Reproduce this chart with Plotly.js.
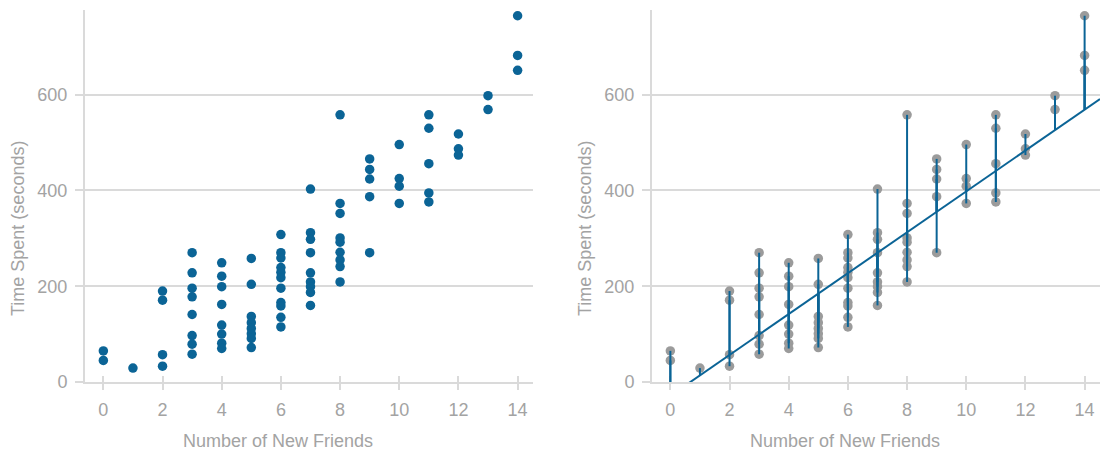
<!DOCTYPE html>
<html>
<head>
<meta charset="utf-8">
<script src="https://cdn.plot.ly/plotly-3.0.1.min.js"></script>
<style>html,body{margin:0;padding:0;background:#fff;}#chart{width:1103px;height:453px;}</style>
</head>
<body>
<div id="chart"></div>
<script>
// Data: number of new friends vs time spent (seconds)
const friends = [
  0,0,
  1,
  2,2,2,2,
  3,3,3,3,3,3,3,3,
  4,4,4,4,4,4,4,4,
  5,5,5,5,5,5,5,5,
  6,6,6,6,6,6,6,6,6,6,6,
  7,7,7,7,7,7,7,7,7,
  8,8,8,8,8,8,8,8,8,
  9,9,9,9,9,
  10,10,10,10,
  11,11,11,11,11,
  12,12,12,
  13,13,
  14,14,14
];
const timeSpent = [
  65,45,
  29,
  190,171,57,33,
  270,228,196,178,141,97,79,58,
  249,221,199,162,119,100,81,70,
  258,204,137,124,112,101,91,72,
  308,270,259,239,229,218,196,166,159,135,115,
  403,312,298,270,228,209,199,187,160,
  558,373,352,301,292,271,255,241,209,
  466,444,424,387,270,
  496,425,409,373,
  558,530,456,395,376,
  518,487,474,
  598,569,
  765,682,651
];
// fitted line: [intercept, slope]
const fitCoef = [-28.9, 42.7];
const xTicks = [0,2,4,6,8,10,12,14];
const yTicks = [0,200,400,600];
const xTitle = "Number of New Friends";
const yTitle = "Time Spent (seconds)";

const n = friends.length;
const fit = x => fitCoef[0] + fitCoef[1]*x;

const xRange = [-0.62, 14.52];
const yRange = [0, 777];
const blue = "#0b6496";
const grey = "#9b9b9b";
const axisCol = "#dadada";
const txtCol = "#a3a3a3";
const W = 1103, H = 453;

// residual segments
const segX = [], segY = [];
for (let i=0;i<n;i++){ segX.push(friends[i], friends[i], null); segY.push(timeSpent[i], fit(friends[i]), null); }

const traces = [
  {x: [], y: [], type:"scatter", xaxis:"x3", yaxis:"y"},
  {x: [], y: [], type:"scatter", xaxis:"x4", yaxis:"y2"},
  {x: friends, y: timeSpent, type:"scatter", mode:"markers", xaxis:"x", yaxis:"y",
   marker:{color:blue, size:9.5}, cliponaxis:false, hoverinfo:"skip"},
  {x: friends, y: timeSpent, type:"scatter", mode:"markers", xaxis:"x2", yaxis:"y2",
   marker:{color:grey, size:9.5}, cliponaxis:false, hoverinfo:"skip"},
  {x: segX, y: segY, type:"scatter", mode:"lines", xaxis:"x2", yaxis:"y2",
   line:{color:blue, width:2}, hoverinfo:"skip"},
  {x: xRange, y: xRange.map(fit), type:"scatter", mode:"lines", xaxis:"x2", yaxis:"y2",
   line:{color:blue, width:2}, hoverinfo:"skip"}
];

const yDom = [1-382/H, 1-10/H];
const xDom1 = [85/W, 533/W];
const xDom2 = [652/W, 1100/W];
const tickFont = {family:"Liberation Sans, Arial, sans-serif", size:18, color:txtCol};

function xAxis(dom, anchor){
  return {domain:dom, anchor:anchor, range:xRange, tickvals:xTicks, ticktext:xTicks.map(String),
    showgrid:false, zeroline:false, showline:true, linecolor:axisCol, linewidth:2,
    ticks:"outside", ticklen:6, tickwidth:2, tickcolor:axisCol, tickfont:tickFont, ticklabelstandoff:4, fixedrange:true};
}
function xOver(base, anchor){
  return {overlaying:base, anchor:anchor, range:xRange, tickvals:xTicks, showticklabels:false, layer:"below traces",
    showgrid:false, zeroline:false, showline:false, ticks:"inside", ticklen:6, tickwidth:2, tickcolor:axisCol, fixedrange:true};
}
function yAxis(anchor){
  return {domain:yDom, anchor:anchor, range:yRange, tickvals:yTicks, ticktext:yTicks.map(String),
    showgrid:true, gridcolor:axisCol, gridwidth:2, zeroline:false, showline:true, linecolor:axisCol, linewidth:2,
    ticks:"outside", ticklen:8, tickwidth:2, tickcolor:axisCol, tickfont:tickFont, ticklabelstandoff:4, fixedrange:true};
}

const annFont = {family:"Liberation Sans, Arial, sans-serif", size:18, color:txtCol};
const layout = {
  width:W, height:H, margin:{l:0,r:0,t:0,b:0}, showlegend:false,
  paper_bgcolor:"#fff", plot_bgcolor:"#fff",
  xaxis: xAxis(xDom1, "y"), yaxis: yAxis("x"),
  xaxis2: xAxis(xDom2, "y2"), yaxis2: yAxis("x2"),
  xaxis3: xOver("x", "y"), xaxis4: xOver("x2", "y2"),
  annotations:[
    {text:xTitle, xref:"paper", yref:"paper", x:278/W, y:1-441/H, showarrow:false, font:annFont, xanchor:"center", yanchor:"middle"},
    {text:xTitle, xref:"paper", yref:"paper", x:845/W, y:1-441/H, showarrow:false, font:annFont, xanchor:"center", yanchor:"middle"},
    {text:yTitle, xref:"paper", yref:"paper", x:18/W, y:1-229/H, showarrow:false, font:annFont, textangle:-90, xanchor:"center", yanchor:"middle"},
    {text:yTitle, xref:"paper", yref:"paper", x:585/W, y:1-229/H, showarrow:false, font:annFont, textangle:-90, xanchor:"center", yanchor:"middle"}
  ]
};
Plotly.newPlot("chart", traces, layout, {displayModeBar:false, staticPlot:true});
</script>
</body>
</html>
